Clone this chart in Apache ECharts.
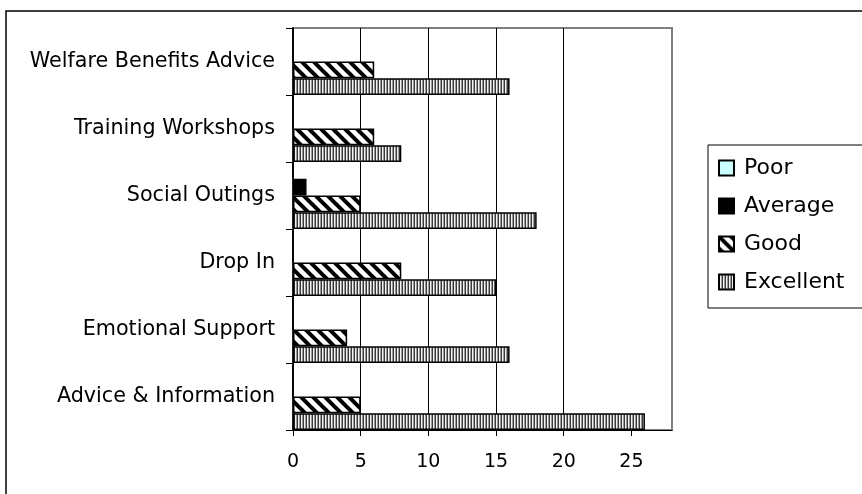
<!DOCTYPE html>
<html>
<head>
<meta charset="utf-8">
<script src="https://cdn.jsdelivr.net/npm/echarts@6/dist/echarts.min.js"></script>
<style>
html,body{margin:0;padding:0;background:#fff;}
#chart{width:862px;height:494px;}
</style>
</head>
<body>
<div id="chart"></div>
<script>
const categories = ['Advice & Information', 'Emotional Support', 'Drop In', 'Social Outings', 'Training Workshops', 'Welfare Benefits Advice'];
const seriesNames = ['Poor', 'Average', 'Good', 'Excellent'];
const poor = [0, 0, 0, 0, 0, 0];
const average = [0, 0, 0, 1, 0, 0];
const good = [5, 4, 8, 5, 6, 6];
const excellent = [26, 16, 15, 18, 8, 16];
const xTicks = [0, 5, 10, 15, 20, 25];

function diagPattern() {
  const c = document.createElement('canvas');
  c.width = 12; c.height = 12;
  const g = c.getContext('2d');
  g.fillStyle = '#fff'; g.fillRect(0, 0, 12, 12);
  g.strokeStyle = '#000'; g.lineWidth = 4;
  for (let k = -1; k <= 1; k++) {
    g.beginPath(); g.moveTo(k * 12 - 2, -2); g.lineTo(k * 12 + 14, 14); g.stroke();
  }
  return c;
}
function vertPattern() {
  const c = document.createElement('canvas');
  c.width = 3; c.height = 4;
  const g = c.getContext('2d');
  const cols = ['#3a3a3a', '#f2f2f2', '#9a9a9a'];
  cols.forEach((col, i) => { g.fillStyle = col; g.fillRect(i, 0, 1, 4); });
  return c;
}

const FONT = 'DejaVu Sans';
const fills = [
  '#CCFFFF',
  '#000000',
  { image: diagPattern(), repeat: 'repeat' },
  { image: vertPattern(), repeat: 'repeat' }
];
const datas = [poor, average, good, excellent];

const chart = echarts.init(document.getElementById('chart'), null, { renderer: 'canvas' });
chart.setOption({
  animation: false,
  backgroundColor: '#fff',
  grid: { left: 293, top: 28, right: 190, bottom: 64, show: true, borderColor: '#808080', borderWidth: 2, backgroundColor: 'transparent' },
  legend: {
    orient: 'vertical', left: 713, top: 152,
    data: seriesNames,
    icon: 'rect', itemWidth: 15, itemHeight: 15, itemGap: 16,
    textStyle: { fontFamily: FONT, fontSize: 22, color: '#000', padding: [0, 0, 0, 5] }
  },
  xAxis: {
    type: 'value', min: 0, max: 28, interval: 5,
    axisLine: { show: true, lineStyle: { color: '#000', width: 1 } },
    axisTick: { show: true, length: 6, customValues: xTicks, lineStyle: { color: '#000' } },
    axisLabel: { customValues: xTicks, margin: 23, fontFamily: FONT, fontSize: 19, color: '#000' },
    splitLine: { show: true, showMinLine: false, showMaxLine: false, lineStyle: { color: '#000', width: 1 } }
  },
  yAxis: {
    type: 'category', data: categories,
    axisLine: { show: true, lineStyle: { color: '#000', width: 1.5 } },
    axisTick: { show: true, length: 7, lineStyle: { color: '#000' } },
    axisLabel: { margin: 18, fontFamily: FONT, fontSize: 20.7, color: '#000' },
    splitLine: { show: false }
  },
  series: seriesNames.map((name, i) => ({
    name: name, type: 'bar', data: datas[i],
    barGap: '0%', barCategoryGap: '0%',
    itemStyle: { color: fills[i], borderColor: '#000', borderWidth: 1.5 }
  })),
  graphic: [
    { type: 'rect', shape: { x: 6, y: 11, width: 900, height: 600 }, style: { fill: null, stroke: '#000', lineWidth: 1.5 }, silent: true, z: 100 },
    { type: 'rect', shape: { x: 708, y: 145, width: 200, height: 163 }, style: { fill: null, stroke: '#000', lineWidth: 1 }, silent: true, z: 100 }
  ]
});
</script>
</body>
</html>
